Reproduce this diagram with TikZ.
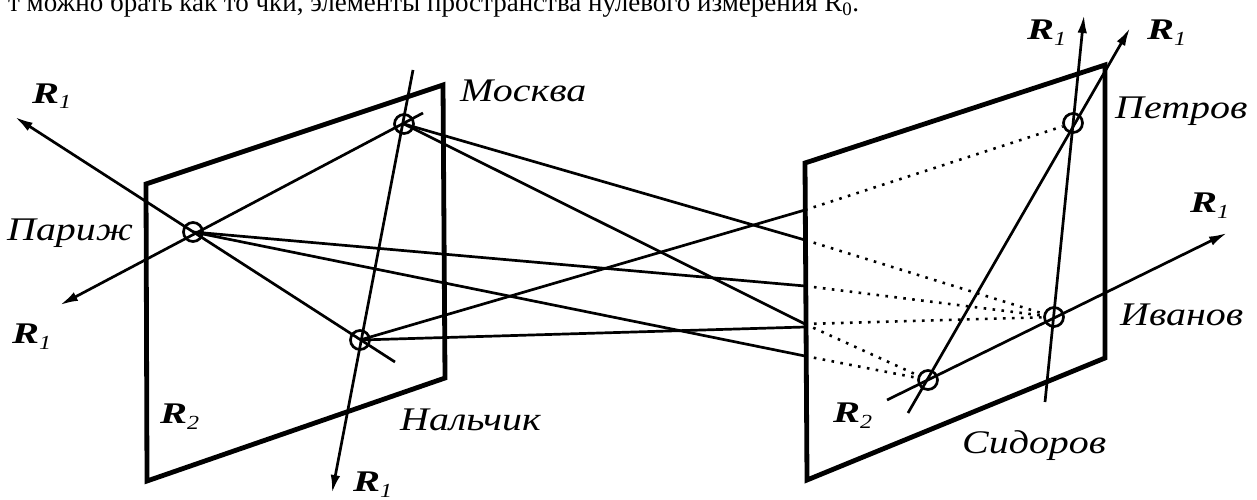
\documentclass[tikz,border=0pt]{standalone}
\usepackage{graphicx}
\usepackage{fontspec}
\setmainfont{Liberation Serif}
\usetikzlibrary{arrows.meta}
\newcommand{\Rlab}[1]{\scalebox{1.35}[1]{\textbf{\textit{R}}}\raisebox{-0.2em}{\fontsize{20}{20}\selectfont\itshape\scalebox{1.2}[1]{#1}}}
\newcommand{\Wide}[1]{\scalebox{1.21}[1]{#1}}
\begin{document}
\begin{tikzpicture}[x=1pt,y=-1pt,
  plane/.style={line width=4.8pt, line join=miter},
  ln/.style={line width=2.7pt},
  arr/.style={ln, -{Latex[length=18pt,width=9.5pt]}},
  dotln/.style={line width=2.6pt, dash pattern=on 2.6pt off 6.4pt},
  pt/.style={circle, draw, line width=2.7pt, minimum size=19pt, inner sep=0pt},
  lbl/.style={font=\fontsize{33}{33}\selectfont\itshape, anchor=base west, inner sep=0pt},
  rlbl/.style={font=\fontsize{30}{30}\selectfont, anchor=base west, inner sep=0pt}]
\useasboundingbox (0,0) rectangle (1257,500);
\begin{scope}
\clip (0,0) rectangle (1257,500);
\node[anchor=base west, inner sep=0pt, font=\fontsize{27}{27}\selectfont] (toptext) at (8,11.7) {т можно брать как то чки, элементы пространства нулевого измерения R\textsubscript{0}.};
\end{scope}
% planes
\draw[plane] (146,184) -- (443,85) -- (445,378) -- (147,481) -- cycle;
\draw[plane] (805,163) -- (1105,65) -- (1105,358) -- (807,480) -- cycle;
% points
\node[pt] (paris) at (193,232) {};
\node[pt] (moscow) at (404,124) {};
\node[pt] (nalchik) at (360,340) {};
\node[pt] (petrov) at (1073,123) {};
\node[pt] (ivanov) at (1054,317) {};
\node[pt] (sid) at (928,380) {};
% free ends
\coordinate (A1a) at (395,362); \coordinate (A1b) at (15,117);
\coordinate (A2a) at (423,113); \coordinate (A2b) at (60,305);
\coordinate (A3a) at (413,70);  \coordinate (A3b) at (332,493);
\coordinate (B1a) at (1045,402); \coordinate (B1b) at (1084,15);
\coordinate (B2a) at (908,413); \coordinate (B2b) at (1130,28);
\coordinate (B3a) at (887,400); \coordinate (B3b) at (1227,233);
\coordinate (P1) at (805,210);
\coordinate (P2) at (805,240);
\coordinate (P3) at (805,286);
\coordinate (P4) at (805,324);
\coordinate (P4n) at (805,327);
\coordinate (P5) at (805,356);
% axis lines
\draw[arr] (A1a) -- (A1b);
\draw[arr] (A2a) -- (A2b);
\draw[arr] (A3a) -- (A3b);
\draw[arr] (B1a) -- (B1b);
\draw[arr] (B2a) -- (B2b);
\draw[arr] (B3a) -- (B3b);
% connectors
\draw[ln] (paris.center) -- (P3);
\draw[ln] (paris.center) -- (P5);
\draw[ln] (moscow.center) -- (P2);
\draw[ln] (moscow.center) -- (P4);
\draw[ln] (nalchik.center) -- (P1);
\draw[ln] (nalchik.center) -- (P4n);
% dotted
\draw[dotln] (P1) -- (petrov);
\draw[dotln] (P2) -- (ivanov);
\draw[dotln] (P3) -- (ivanov);
\draw[dotln] (P4) -- (ivanov);
\draw[dotln] (P4) -- (sid);
\draw[dotln] (P5) -- (sid);
% labels
\node[lbl] (lparis) at (7,240) {\Wide{Париж}};
\node[lbl] (lmoscow) at (460,102) {\Wide{Москва}};
\node[lbl] (lnalchik) at (400,430) {\Wide{Нальчик}};
\node[lbl] (lpetrov) at (1115,119) {\Wide{Петров}};
\node[lbl] (livanov) at (1120,325) {\Wide{Иванов}};
\node[lbl] (lsid) at (962,453) {\Wide{Сидоров}};
\node[rlbl] (r1a) at (32,103) {\Rlab{1}};
\node[rlbl] (r1b) at (12,343) {\Rlab{1}};
\node[rlbl] (r1c) at (353,491) {\Rlab{1}};
\node[rlbl] (r2a) at (160,423) {\Rlab{2}};
\node[rlbl] (r1d) at (1027,40) {\Rlab{1}};
\node[rlbl] (r1e) at (1147,40) {\Rlab{1}};
\node[rlbl] (r1f) at (1190,212) {\Rlab{1}};
\node[rlbl] (r2b) at (833,422) {\Rlab{2}};
\end{tikzpicture}
\end{document}
